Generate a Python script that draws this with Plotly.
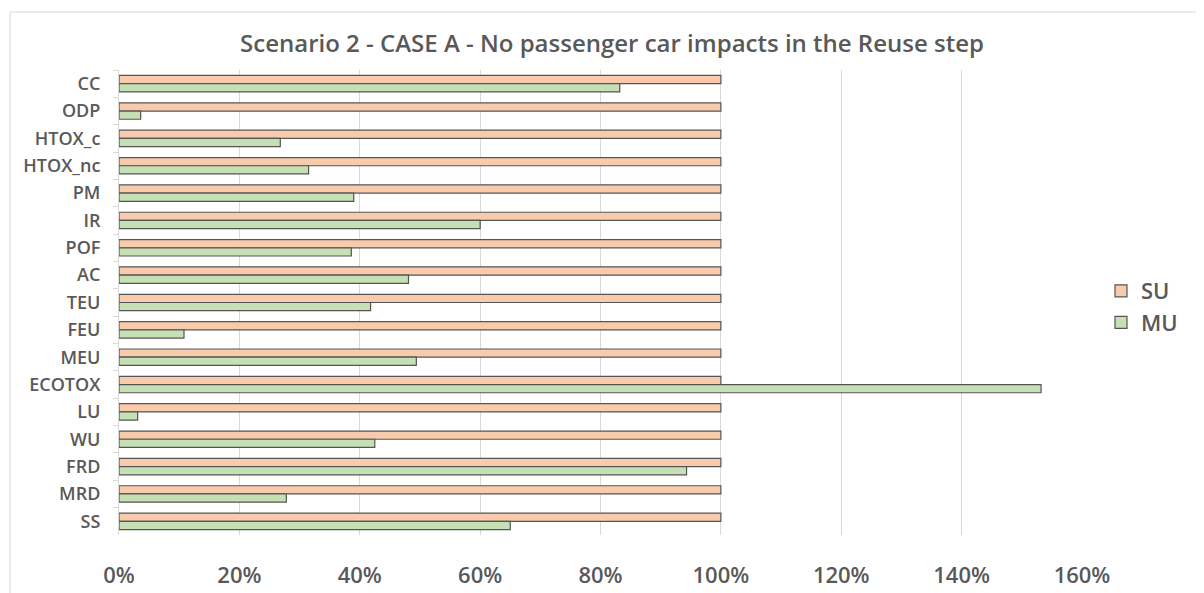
import plotly.graph_objects as go

categories = ["CC", "ODP", "HTOX_c", "HTOX_nc", "PM", "IR", "POF", "AC", "TEU", "FEU",
              "MEU", "ECOTOX", "LU", "WU", "FRD", "MRD", "SS"]
su_values = [1.0] * 17
mu_values = [0.832, 0.036, 0.268, 0.315, 0.390, 0.600, 0.386, 0.481, 0.418, 0.108,
             0.494, 1.532, 0.031, 0.425, 0.943, 0.278, 0.650]
x_ticks = [0, 0.2, 0.4, 0.6, 0.8, 1.0, 1.2, 1.4, 1.6]
x_tick_labels = ["0%", "20%", "40%", "60%", "80%", "100%", "120%", "140%", "160%"]

GRAY = "#595959"
FONT = "Open Sans"

fig = go.Figure()
fig.add_trace(go.Bar(y=categories, x=su_values, name="SU", orientation="h",
                     marker=dict(color="#F8CBAD", line=dict(color="#555555", width=1.2))))
fig.add_trace(go.Bar(y=categories, x=mu_values, name="MU", orientation="h",
                     marker=dict(color="#C5E0B4", line=dict(color="#555555", width=1.2))))

# page body has an 8px margin, so work in page coordinates minus 8
OFF = 8
W, H = 1204 - OFF, 593 - OFF
L, R, T, B = 119 - OFF, 1082 - OFF, 70 - OFF, 535 - OFF
pw, ph = R - L, B - T

fig.update_layout(
    width=W, height=H,
    margin=dict(l=L, r=W - R, t=T, b=H - B, autoexpand=False),
    paper_bgcolor="white", plot_bgcolor="white",
    barmode="group", bargap=0.4, bargroupgap=0,
    title=dict(text="Scenario 2 - CASE A - No passenger car impacts in the Reuse step",
               x=(612 - OFF) / W, xanchor="center", y=1 - (44 - OFF) / H, yanchor="middle",
               font=dict(family=FONT, size=24, color=GRAY, weight=600)),
    font=dict(family=FONT, color=GRAY),
    legend=dict(x=(1101 - 119) / pw, xanchor="left", y=(535 - 307) / ph, yanchor="middle",
                font=dict(family=FONT, size=22, color=GRAY, weight=600), traceorder="normal",
                tracegroupgap=6, itemwidth=30, bgcolor="rgba(0,0,0,0)"),
    xaxis=dict(range=[0, 1.6], tickvals=x_ticks, ticktext=x_tick_labels,
               showgrid=True, gridcolor="#d9d9d9", gridwidth=1, zeroline=False,
               showline=False, ticks="", ticklabelstandoff=25,
               tickfont=dict(family=FONT, size=22, color=GRAY, weight=600)),
    yaxis=dict(autorange="reversed", showgrid=False, showline=True, linecolor="#d9d9d9",
               ticks="outside", tickson="boundaries", ticklen=5, tickcolor="#d9d9d9",
               ticklabelstandoff=14,
               tickfont=dict(family=FONT, size=18, color=GRAY, weight=600)),
    shapes=[dict(type="rect", xref="paper", yref="paper",
                 x0=(10 - 119) / pw, x1=(1300 - 119) / pw,
                 y0=(535 - 700) / ph, y1=(535 - 12) / ph,
                 line=dict(color="#d9d9d9", width=1), layer="below")],
)

fig.write_html("out.html")
